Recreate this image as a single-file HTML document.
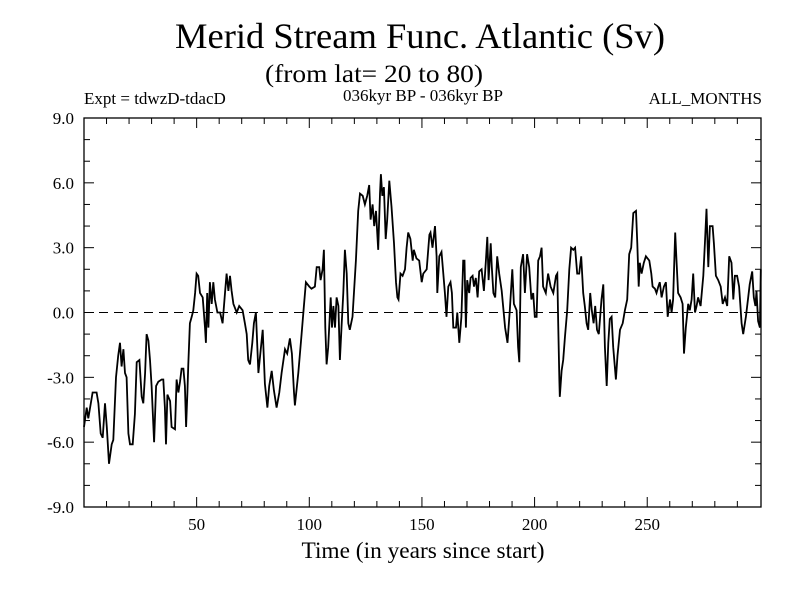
<!DOCTYPE html>
<html><head><meta charset="utf-8"><style>
html,body{margin:0;padding:0;background:#fff;}
svg{display:block;font-family:"Liberation Serif",serif;}
</style></head><body>
<svg id="chart" width="800" height="600" viewBox="0 0 800 600">
<rect x="0" y="0" width="800" height="600" fill="#fff"/>
<text x="420" y="48" font-size="36" text-anchor="middle" textLength="490" lengthAdjust="spacingAndGlyphs">Merid Stream Func. Atlantic (Sv)</text>
<text x="374" y="82" font-size="25" text-anchor="middle" textLength="218" lengthAdjust="spacingAndGlyphs">(from lat= 20 to 80)</text>
<text x="84" y="104" font-size="17">Expt = tdwzD-tdacD</text>
<text x="423" y="101" font-size="17" text-anchor="middle">036kyr BP - 036kyr BP</text>
<text x="762" y="104" font-size="17" text-anchor="end">ALL_MONTHS</text>
<text x="423" y="558" font-size="23" text-anchor="middle" textLength="243" lengthAdjust="spacingAndGlyphs">Time (in years since start)</text>
<g id="axes"></g>
<g id="series"></g>
</svg>
<script>
const xTickValues=[50,100,150,200,250];
const yTickValues=[-9,-6,-3,0,3,6,9];
const yTickLabels=["-9.0","-6.0","-3.0","0.0","3.0","6.0","9.0"];
const years=[0,1.2,1.9,2.7,3.8,5.6,6.4,7.4,8.3,9.3,10.1,11.1,12.3,13,14.2,15.2,16,16.7,17.5,18.2,18.9,19.7,20.4,21.6,22.6,23.4,24.6,25.6,26.3,27.1,27.8,28.6,29.3,30,31.1,32,33,34.5,35.2,35.9,36.4,37,38.2,38.9,40.4,41.1,41.9,42.6,43.3,44.1,44.8,45.3,45.9,46.3,47,47.8,48.5,49.3,50,50.7,51.5,52.7,53.7,54.1,54.7,55.2,55.9,56.7,57.4,58.1,59.2,60.4,61.5,62.6,63.3,64.1,64.8,65.5,66.3,67.8,68.9,70.4,71.4,72.2,72.9,73.7,74.7,75.4,76.3,77.4,
79.3,80.3,81.4,82.2,83.3,84.3,85.5,86.7,87.7,89.2,90.2,91.4,92.3,93.2,93.6,95.1,96.6,97.6,98.5,100,101,102.5,103.3,104.4,105,105.9,106.5,107.1,107.7,108.4,109.5,110.1,110.7,111.4,112.1,112.9,113.6,114.3,115.1,115.8,116.6,117.3,118,119.2,120.7,121.7,122.5,123.7,124.7,125.7,126.6,127.2,128.1,128.8,129.6,130.6,131.4,131.8,132.4,133.1,133.9,134.6,135.5,136.5,137.6,138.5,139.1,139.6,140.5,141.4,142.5,143.2,143.9,144.9,145.9,146.4,147.6,148.8,149.9,150.6,152.1,153.3,
153.8,154.7,155.8,156.5,156.8,157.7,158.7,159.5,160.2,160.9,161.7,162.7,163.3,163.9,165.1,165.7,166.6,167.5,168.3,168.9,169.5,170.1,171,171.6,172.5,173.1,173.9,174.7,175.4,176.5,177.5,178.4,179,179.6,180.5,181,181.7,182.5,183.4,184.3,185.4,186.9,188,189,190.1,190.8,192,192.7,193.2,193.9,194.9,195.7,196.7,197.6,198.6,199.4,200.1,200.9,201.6,202.4,203.1,203.8,205,206,207.1,208.3,209.5,210.1,210.5,211,211.2,212,212.7,213.5,214.5,215.4,216.2,217.2,218,218.9,219.8,220.7,221.6,222.3,223.1,223.8,224.7,225.4,226.2,226.9,227.7,228.5,
229.7,230.5,231.2,232,232.7,233.4,234.2,234.9,236.1,236.8,237.9,239.1,240.1,241.1,242,242.9,243.8,245,245.6,246.2,246.7,247.5,248.5,249.4,250.9,251.8,252.4,253.4,254.1,254.9,255.6,256.4,257.4,258.3,259.1,260.1,260.8,261.5,262.4,263,263.7,264.8,265.7,266.3,267.1,268.2,268.9,269.7,270.4,271.2,271.9,272.6,273.7,274.9,275.6,276.3,277.1,277.8,279,279.6,280.5,281.5,282.6,283.5,284.5,285.5,286.4,287.4,288.2,288.9,289.9,290.8,291.9,292.6,293.8,294.8,295.5,296.6,297.3,298,298.5,299.2,300,300.4];
const values=[-5.3,-4.4,-4.9,-4.4,-3.7,-3.7,-4.2,-5.6,-5.8,-4.2,-5.3,-7.0,-6.1,-5.9,-3.0,-2.0,-1.4,-2.5,-1.7,-2.8,-3.0,-5.6,-6.1,-6.1,-4.7,-2.3,-2.2,-3.9,-4.2,-2.8,-1.0,-1.3,-2.2,-3.4,-6.0,-3.4,-3.2,-3.1,-3.1,-4.4,-6.1,-3.8,-4.1,-5.3,-5.4,-3.1,-3.7,-3.2,-2.6,-2.6,-3.4,-5.3,-3.7,-2.4,-0.5,-0.2,0.1,0.9,1.8,1.7,0.9,0.7,-0.7,-1.4,0.9,-0.7,1.4,0.4,1.4,0.6,0,0,-0.5,0.9,1.8,1.0,1.7,1.0,0.4,0,0.3,0.1,-0.5,-1.0,-2.2,-2.4,-1.4,-0.5,0,-2.8,
-0.8,-3.3,-4.4,-3.4,-2.7,-3.6,-4.4,-3.7,-2.8,-1.7,-1.9,-1.2,-1.9,-3.7,-4.3,-2.8,-1.0,0.3,1.4,1.2,1.1,1.2,2.1,2.1,1.5,2.0,2.9,-0.7,-2.4,-1.6,0.7,-0.7,0.3,-0.7,0.7,0.3,-2.2,-0.7,0.9,2.9,1.8,-0.5,-0.8,-0.2,2.4,4.7,5.5,5.4,5.0,5.4,5.9,4.3,5.0,4.0,4.7,2.9,5.5,6.4,5.4,5.8,3.4,4.3,6.1,4.9,3.2,1.4,0.7,0.6,1.8,1.7,2.0,3.0,3.7,3.4,2.4,2.9,2.5,2.4,1.4,1.8,2.0,3.6,
3.7,3.0,4.0,2.6,0.9,2.6,2.8,1.8,0.9,-0.2,1.2,1.4,0.9,-0.7,-0.7,0,-1.4,-0.2,2.4,2.4,-0.7,1.5,0.9,1.6,1.7,1.2,1.6,0.7,1.9,2.0,1.0,2.4,3.5,1.5,3.2,2.1,0.9,0.7,2.6,1.8,1.0,-0.7,-1.4,0.1,2.0,0.4,0.1,-1.6,-2.3,2.1,2.7,0.9,2.7,2.1,0.6,0.9,-0.2,-0.2,2.4,2.6,3.0,1.2,0.9,1.8,1.2,0.9,1.7,1.8,-0.5,-3.2,-3.9,-2.7,-2.2,-1.1,0.1,2.0,3.0,2.9,3.0,1.8,1.8,2.6,0.9,0.3,-0.5,-0.8,0.9,0.1,-0.5,0.3,-0.8,-1.0,
0.6,1.3,-1.6,-3.4,-1.4,-0.3,-0.2,-1.6,-3.1,-2.0,-0.8,-0.5,0.1,0.6,2.7,3.0,4.6,4.7,3.2,1.2,2.3,1.8,2.3,2.6,2.4,1.8,1.2,1.1,0.9,1.2,1.4,0.7,1.2,1.4,-0.2,0.6,0,0.6,3.7,2.4,0.9,0.7,0.4,-1.9,-0.7,0.4,0.1,0.6,1.8,0,0.3,0.7,0.3,1.7,3.2,4.8,2.1,4.0,4.0,3.2,1.7,1.5,1.2,0.4,0.7,0.3,2.6,2.3,0.6,1.7,1.7,1.2,-0.5,-1.0,-0.2,0.7,1.3,1.9,0.7,0.3,1.0,-0.4,-0.7,2.0];

const X0=84,X1=761,Y0=118,Y1=507,XMIN=0,XMAX=300.5,YMIN=-9,YMAX=9;
function sx(v){return X0+(v-XMIN)/(XMAX-XMIN)*(X1-X0);}
function sy(v){return Y1-(v-YMIN)/(YMAX-YMIN)*(Y1-Y0);}
const NS="http://www.w3.org/2000/svg";
const axes=document.getElementById('axes');
const series=document.getElementById('series');
function mk(tag,attrs,parent){const e=document.createElementNS(NS,tag);for(const k in attrs)e.setAttribute(k,attrs[k]);parent.appendChild(e);return e;}

const frame=mk('rect',{x:X0,y:Y0,width:X1-X0,height:Y1-Y0,fill:'none',stroke:'#000','stroke-width':1.3},axes);



for(let t=10;t<300;t+=10){
  const len=(t%50===0)?10:6;
  const a=mk('line',{x1:sx(t),x2:sx(t),y1:Y1,y2:Y1-len,stroke:'#000','stroke-width':1},axes);
  
  
  const b=mk('line',{x1:sx(t),x2:sx(t),y1:Y0,y2:Y0+len,stroke:'#000','stroke-width':1},axes);
  
  
}
xTickValues.forEach(function(t){
  const l=mk('text',{x:sx(t),y:Y1+23,'font-size':17,'text-anchor':'middle'},axes);
  l.textContent=String(t);
  
  
});
for(let v=-8;v<9;v+=1){
  const len=(v%3===0)?10:6;
  const a=mk('line',{x1:X0,x2:X0+len,y1:sy(v),y2:sy(v),stroke:'#000','stroke-width':1},axes);
  
  
  const b=mk('line',{x1:X1,x2:X1-len,y1:sy(v),y2:sy(v),stroke:'#000','stroke-width':1},axes);
  
  
}
yTickValues.forEach(function(v,i){
  const l=mk('text',{x:X0-10,y:sy(v)+6,'font-size':17,'text-anchor':'end'},axes);
  l.textContent=yTickLabels[i];
  
  
});
const zero=mk('line',{x1:X0,x2:X1,y1:sy(0),y2:sy(0),stroke:'#000','stroke-width':1,'stroke-dasharray':'9,6'},axes);



let d='';
for(let i=0;i<years.length;i++){d+=(i?'L':'M')+sx(years[i]).toFixed(1)+','+sy(values[i]).toFixed(1);}
const line=mk('path',{d:d,fill:'none',stroke:'#000','stroke-width':1.8,'stroke-linejoin':'miter'},series);


</script>
</body></html>
